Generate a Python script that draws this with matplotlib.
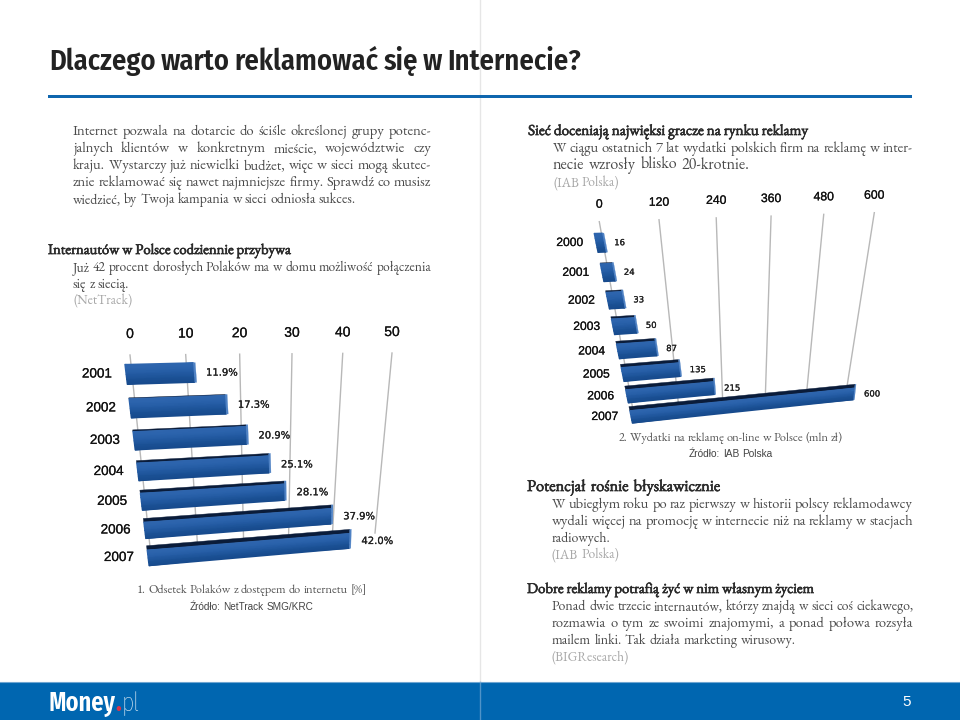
import numpy as np
import matplotlib
matplotlib.use("Agg")
import matplotlib.pyplot as plt
import matplotlib.patheffects as pe
from matplotlib.transforms import Transform
from matplotlib.colors import LinearSegmentedColormap

BLUE = "#0066B0"
BODY = "#4A4A4A"
HEAD = "#2A2A2A"
SOFT = "#A8A8A8"
SERIF = ["EB Garamond", "Liberation Serif"]
SANS = ["Liberation Sans"]
NARROW = ["Fira Sans Condensed", "Roboto Condensed", "Liberation Sans"]
LOGO = ["Fira Sans Extra Condensed", "Fira Sans Condensed", "Liberation Sans"]

# wykres 1
years_net = ["2001", "2002", "2003", "2004", "2005", "2006", "2007"]
share_net = [11.9, 17.3, 20.9, 25.1, 28.1, 37.9, 42.0]
ticks_net = [0, 10, 20, 30, 40, 50]

# wykres 2
years_iab = ["2000", "2001", "2002", "2003", "2004", "2005", "2006", "2007"]
spend_iab = [16, 24, 33, 50, 87, 135, 215, 600]
ticks_iab = [0, 120, 240, 360, 480, 600]

# tekst: (x0, x1, y, linia)
intro_lines = [
    (73, 431, 131, "Internet pozwala na dotarcie do ściśle określonej grupy potenc-"),
    (73, 431, 148, "jalnych klientów w konkretnym mieście, województwie czy"),
    (73, 431, 165, "kraju. Wystarczy już niewielki budżet, więc w sieci mogą skutec-"),
    (73, 431, 182, "znie reklamować się nawet najmniejsze firmy. Sprawdź co musisz"),
    (73, 431, 267, "Już 42 procent dorosłych Polaków ma w domu możliwość połączenia"),
    (553, 913, 148, "W ciągu ostatnich 7 lat wydatki polskich firm na reklamę w inter-"),
    (552, 913, 504, "W ubiegłym roku po raz pierwszy w historii polscy reklamodawcy"),
    (552, 913, 521, "wydali więcej na promocję w internecie niż na reklamy w stacjach"),
    (552, 913, 606, "Ponad dwie trzecie internautów, którzy znajdą w sieci coś ciekawego,"),
    (552, 913, 623, "rozmawia o tym ze swoimi znajomymi, a ponad połowa rozsyła"),
]
short_lines = [
    (73, 355, 199, "wiedzieć, by Twoja kampania w sieci odniosła sukces."),
    (73, 129, 284, "się z siecią."),
    (553, 750, 165, "necie wzrosły blisko 20-krotnie."),
    (552, 610, 538, "radiowych."),
    (552, 796, 640, "mailem linki. Tak działa marketing wirusowy."),
]
heading_lines = [
    (48, 291, 250, "Internautów w Polsce codziennie przybywa"),
    (528, 808, 131, "Sieć doceniają najwięksi gracze na rynku reklamy"),
    (527, 720, 487, "Potencjał rośnie błyskawicznie"),
    (527, 814, 589, "Dobre reklamy potrafią żyć w nim własnym życiem"),
]
source_lines = [
    (73, 130, 300, "(NetTrack)"),
    (553, 619, 182, "(IAB Polska)"),
    (552, 619, 554, "(IAB Polska)"),
    (552, 631, 656, "(BIGResearch)"),
]


class Perspective(Transform):
    # homografia: prostokat danych -> czworokat na stronie
    input_dims = output_dims = 2

    def __init__(self, x0, x1, y0, y1, corners):
        super().__init__()
        src = [(x0, y0), (x1, y0), (x1, y1), (x0, y1)]
        a, b = [], []
        for (x, y), (u, v) in zip(src, corners):
            a.append([x, y, 1, 0, 0, 0, -u * x, -u * y])
            a.append([0, 0, 0, x, y, 1, -v * x, -v * y])
            b += [u, v]
        self.h = np.append(np.linalg.solve(np.array(a, float), np.array(b, float)), 1).reshape(3, 3)

    def transform_non_affine(self, values):
        values = np.ma.getdata(values)
        pts = np.column_stack([values, np.ones(len(values))]) @ self.h.T
        return pts[:, :2] / pts[:, 2:]


fig = plt.figure(figsize=(9.6, 7.2), dpi=100, facecolor="white")
ax = fig.add_axes([0, 0, 1, 1])
ax.set_xlim(0, 960)
ax.set_ylim(720, 0)
ax.axis("off")
ax.autoscale(False)
renderer = fig.canvas.get_renderer()
bar_cmap = LinearSegmentedColormap.from_list("bar", ["#2F66AE", "#2A62AC", "#1D5398", "#174A8C"])


def place_line(x0, x1, y, line, fit=None, space=3.0, **kw):
    # slowo po slowie, zeby wyjustowac do x1; gdy sie nie miesci, mniejszy font
    words = line.split(" ")
    items = [ax.text(0, y + 4, w, va="baseline", **kw) for w in words]
    widths = np.array([t.get_window_extent(renderer).width for t in items])
    holes = max(len(words) - 1, 1)
    avail = x1 - x0
    scale = (avail - space * holes) / widths.sum()
    if fit is not None:
        scale = np.clip(scale, *fit)
    else:
        scale = min(scale, 1)
    for t in items:
        t.set_fontsize(t.get_fontsize() * scale)
    widths = widths * scale
    gap = (avail - widths.sum()) / holes
    x = x0
    for t, w in zip(items, widths):
        t.set_x(x)
        x += w + gap


def draw_chart(names, values, ticks, grid_corners, bar_corners, cfg):
    vmax = ticks[-1]
    last = len(names) - 1
    grid = Perspective(0, vmax, 0, 1, grid_corners) + ax.transData
    bar_tr = Perspective(0, vmax, 0, last, bar_corners) + ax.transData
    heavy = [pe.withStroke(linewidth=cfg["stroke"], foreground="#111111")]

    for tick in ticks:
        ax.plot([tick, tick], [0, 1], color="#B8B8B8", lw=1.0, transform=grid, zorder=1)
        ax.annotate(str(tick), (tick, 0), xycoords=grid, xytext=(0, cfg["tick_up"]),
                    textcoords="offset pixels", ha="center", va="center",
                    fontsize=cfg["tick_fs"], family=SANS, color="#111111", path_effects=heavy)

    hh = cfg["half"]
    for k, (name, val) in enumerate(zip(names, values)):
        # wierzch slupka, grubszy im nizej
        depth = cfg["depth"] * k / last
        if depth > 0:
            ax.fill([0, val, val, 0], [k - hh - depth, k - hh - depth, k - hh, k - hh],
                    color="#0A1C3A", lw=0.3, transform=bar_tr, zorder=3)
        # przod slupka z gradientem
        xs = np.array([[0, val]] * 5, float)
        ys = np.repeat(np.linspace(k - hh, k + hh, 5)[:, None], 2, axis=1)
        shade = np.repeat(np.linspace(0, 1, 5)[:, None], 2, axis=1)
        ax.pcolormesh(xs, ys, shade, cmap=bar_cmap, shading="gouraud", transform=bar_tr, zorder=3)
        cap = cfg["cap"]
        ax.fill([val, val + cap, val + cap, val], [k - hh - depth, k - hh - depth, k + hh, k + hh],
                color="#4F82C4", lw=0.2, transform=bar_tr, zorder=3)
        ax.annotate(name, (0, k), xycoords=bar_tr, xytext=(cfg["year_dx"], 0),
                    textcoords="offset pixels", ha="center", va="center",
                    fontsize=cfg["year_fs"], family=SANS, color="#111111", path_effects=heavy)
        ax.annotate(cfg["fmt"].format(val), (val, k), xycoords=bar_tr, xytext=(cfg["val_dx"], 0),
                    textcoords="offset pixels", ha="left", va="center",
                    fontsize=cfg["val_fs"], family="DejaVu Sans", color="#222222", path_effects=heavy)


# strona
ax.plot([480, 480], [0, 682], color="#E6E6E6", lw=1, zorder=0)
ax.fill([0, 960, 960, 0], [682, 682, 720, 720], color=BLUE, lw=0, zorder=0)
ax.plot([480, 480], [682, 720], color="#4F93C8", lw=1, zorder=1)
ax.plot([0, 960], [682, 682], color="#6FA6D2", lw=0.8, zorder=1)
ax.fill([48, 912, 912, 48], [94.5, 94.5, 98, 98], color="#0F66AE", lw=0, zorder=1)

place_line(49, 581, 66, "Dlaczego warto reklamować się w Internecie?", fit=(0.5, 2), space=5,
           family=NARROW, weight="semibold", fontsize=21, color="#222222")

for line in intro_lines:
    place_line(*line, family=SERIF, fontsize=10.5, color=BODY)
for line in short_lines:
    place_line(*line, fit=(0.94, 1.1), family=SERIF, fontsize=10.5, color=BODY)
bold = [pe.withStroke(linewidth=0.45, foreground=HEAD)]
for line in heading_lines:
    place_line(*line, fit=(0.92, 1.12), family=SERIF, fontsize=10.5, color=HEAD, path_effects=bold)
for line in source_lines:
    place_line(*line, fit=(0.92, 1.04), family=SERIF, fontsize=10.5, color=SOFT)

draw_chart(
    years_net, share_net, ticks_net,
    [(130, 355), (392, 353), (375, 533), (150, 547)],
    [(126, 374.5), (394, 367), (385, 538), (148, 558)],
    dict(tick_up=21, tick_fs=10, year_fs=9.7, year_dx=-29, val_dx=12, val_fs=7.2,
         half=0.29, depth=0.16, cap=0.35, stroke=0.15, fmt="{:.1f}%"),
)
draw_chart(
    years_iab, spend_iab, ticks_iab,
    [(599.3, 221.7), (874.3, 212.7), (846.7, 388.3), (633, 410)],
    [(596, 243), (871, 234), (854, 394), (631, 417)],
    dict(tick_up=17, tick_fs=8.8, year_fs=8.7, year_dx=-26, val_dx=10, val_fs=6.1,
         half=0.31, depth=0.2, cap=3, stroke=0.15, fmt="{:d}"),
)

place_line(137, 367, 589, "1. Odsetek Polaków z dostępem do internetu [%]", fit=(0.85, 1.1), space=3.2,
           family=SERIF, fontsize=10.5, color="#555555")
place_line(190, 313, 606, "Źródło: NetTrack SMG/KRC", fit=(0.9, 1.1), family=SANS, fontsize=8, color="#444444")
place_line(619, 843, 437, "2. Wydatki na reklamę on-line w Polsce (mln zł)", fit=(0.85, 1.1), space=3.2,
           family=SERIF, fontsize=10.5, color="#555555")
place_line(689, 773, 453, "Źródło: IAB Polska", fit=(0.9, 1.1), family=SANS, fontsize=8, color="#444444")

# stopka
money = ax.text(48, 711, "Money", family=LOGO, weight="semibold", fontsize=19, color="white", va="baseline")
end = money.get_window_extent(renderer).x1
ax.text(end + 0.5, 711, ".", family=LOGO, weight="bold", fontsize=19, color="#D8344A", va="baseline")
ax.text(end + 6, 711, "pl", family=LOGO, weight="light", fontsize=19, color="white", va="baseline")
ax.text(907, 702, "5", family=SANS, fontsize=11, color="white", ha="center", va="center")

fig.savefig("out.png", dpi=100, facecolor="white")
